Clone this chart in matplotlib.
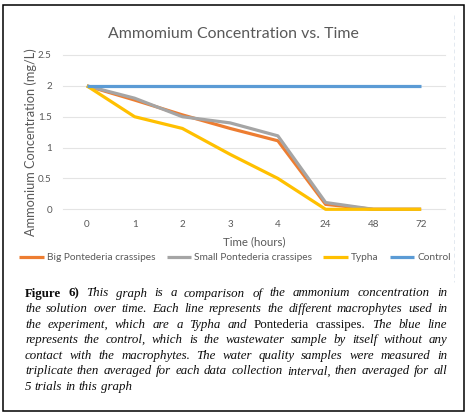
import matplotlib
matplotlib.use('Agg')
import matplotlib.pyplot as plt
from matplotlib.patches import Rectangle
from matplotlib.lines import Line2D

# ---------------- data ----------------
hours = ['0', '1', '2', '3', '4', '24', '48', '72']
big_pontederia = [2.0, 1.77, 1.53, 1.31, 1.11, 0.08, 0.0, 0.0]
small_pontederia = [2.0, 1.80, 1.50, 1.40, 1.19, 0.11, 0.0, 0.0]
typha = [2.0, 1.50, 1.31, 0.89, 0.50, 0.0, 0.0, 0.0]
control = [2.0, 2.0, 2.0, 2.0, 2.0, 2.0, 2.0, 2.0]
series_names = ['Big Pontederia crassipes', 'Small Pontederia crassipes', 'Typha', 'Control']
yticks = [0, 0.5, 1, 1.5, 2, 2.5]
ytick_labels = ['0', '0.5', '1', '1.5', '2', '2.5']
title = 'Ammomium Concentration vs. Time'
xlabel = 'Time (hours)'
ylabel = 'Ammonium Concentration (mg/L)'

# ---------------- layout ----------------
W, H = 468, 415
fig = plt.figure(figsize=(W / 100, H / 100), dpi=100)
fig.patch.set_facecolor('white')
renderer = fig.canvas.get_renderer()

def fx(px):
    return px / W

def fy(py):
    return 1 - py / H

def measure(s, size, **kw):
    t = fig.text(0, 0, s, fontsize=size, **kw)
    w = t.get_window_extent(renderer=renderer).width
    t.remove()
    return w

def fit(s, target, **kw):
    return 10 * target / measure(s, 10, **kw)

SANS = 'Lato'
TXT = '#595959'

title_fs = fit(title, 251, family=SANS)
xlab_fs = fit(xlabel, 63, family=SANS)
ylab_fs = fit(ylabel, 187, family=SANS)
leg_fs = fit(series_names[0], 109, family=SANS)
tick_fs = leg_fs * 0.97

ax_l, ax_r, ax_t, ax_b = 63, 445, 55, 209.3
ax = fig.add_axes([fx(ax_l), fy(ax_b), (ax_r - ax_l) / W, (ax_b - ax_t) / H])
xs = list(range(len(hours)))
colors = ['#ED7D31', '#A5A5A5', '#FFC000', '#5B9BD5']
for vals, c, name in zip([big_pontederia, small_pontederia, typha, control], colors, series_names):
    ax.plot(xs, vals, color=c, lw=2.3, label=name, clip_on=False,
            solid_capstyle='butt', solid_joinstyle='round')
ax.set_xlim(-0.5, len(hours) - 0.5)
ax.set_ylim(0, 2.5)
ax.set_yticks(yticks)
ax.set_yticklabels(ytick_labels)
ax.set_xticks(xs)
ax.set_xticklabels(hours)
ax.grid(axis='y', color='#E4E4E4', lw=0.8)
ax.set_axisbelow(True)
for gl in ax.get_ygridlines():
    gl.set_clip_on(False)
for s in ax.spines.values():
    s.set_visible(False)
ax.tick_params(axis='both', length=0, colors=TXT, labelsize=tick_fs)
ax.tick_params(axis='y', pad=8)
ax.tick_params(axis='x', pad=7.5)
for lab in ax.get_xticklabels() + ax.get_yticklabels():
    lab.set_family(SANS)

ax.set_ylabel(ylabel, fontsize=ylab_fs, color=TXT, family=SANS)
ax.yaxis.set_label_coords((31 - ax_l) / (ax_r - ax_l), (ax_b - 142) / (ax_b - ax_t))
ax.set_xlabel(xlabel, fontsize=xlab_fs, color=TXT, family=SANS)
ax.xaxis.set_label_coords((254 - ax_l) / (ax_r - ax_l), (ax_b - 242) / (ax_b - ax_t))
ax.xaxis.label.set_va('center')
ax.yaxis.label.set_va('center')

fig.text(fx(233), fy(33.5), title, fontsize=title_fs, color=TXT, family=SANS,
         ha='center', va='center')

handles, labels = ax.get_legend_handles_labels()
leg = fig.legend(handles, labels, loc='center', bbox_to_anchor=(fx(235), fy(257.5)),
                 ncol=4, frameon=False, prop={'family': SANS, 'size': leg_fs},
                 handlelength=2.4, handletextpad=0.3, columnspacing=1.1,
                 borderaxespad=0, borderpad=0)
for t in leg.get_texts():
    t.set_color(TXT)

# faint right edge of the chart image
fig.add_artist(Line2D([fx(454), fx(454)], [fy(15), fy(282)], color='#E3E9F0', lw=0.7,
                      ls=(0, (4, 3))))

# outer border
fig.add_artist(Rectangle((fx(2.5), fy(411)), fx(463.5) - fx(2.5), (411 - 5) / H,
                         fill=False, edgecolor='black', lw=1.1))

# ---------------- caption (justified) ----------------
SERIF = 'Liberation Serif'
I, U, B = 'italic', 'normal', 'bold'
cap_lines = [
    [('Figure', B), ('6)', B), ('This', I), ('graph', I), ('is', I), ('a', I), ('comparison', I),
     ('of', I), ('the', I), ('ammonium', I), ('concentration', I), ('in', I)],
    [(w, I) for w in 'the solution over time. Each line represents the different macrophytes used in'.split()],
    [(w, I) for w in 'the experiment, which are a Typha and'.split()] + [('Pontederia', U), ('crassipes.', U)]
    + [(w, I) for w in 'The blue line'.split()],
    [(w, I) for w in 'represents the control, which is the wastewater sample by itself without any'.split()],
    [(w, I) for w in 'contact with the macrophytes. The water quality samples were measured in'.split()],
    [(w, I) for w in 'triplicate then averaged for each data collection interval, then averaged for all'.split()],
    [(w, I) for w in '5 trials in this graph'.split()],
]

def style_kw(st):
    if st == B:
        return dict(family=SERIF, weight='bold', style='normal')
    return dict(family=SERIF, weight='normal', style=st)

cap_fs = fit('5 trials in this graph', 106, family=SERIF, style='italic')
space_w = measure('a a', cap_fs, family=SERIF, style='italic') - measure('aa', cap_fs, family=SERIF, style='italic')
left, right = 25, 447
y0, dy = 296.5, 15.56
for i, line in enumerate(cap_lines):
    widths = [measure(w, cap_fs, **style_kw(st)) for w, st in line]
    last = (i == len(cap_lines) - 1)
    if last or len(line) == 1:
        gap = space_w
    else:
        gap = (right - left - sum(widths)) / (len(line) - 1)
    xcur = left
    for (w, st), wd in zip(line, widths):
        fig.text(fx(xcur), fy(y0 + i * dy), w, fontsize=cap_fs, color='#0d0d0d',
                 ha='left', va='baseline', **style_kw(st))
        xcur += wd + gap

fig.savefig('out.png', dpi=100, facecolor='white')
